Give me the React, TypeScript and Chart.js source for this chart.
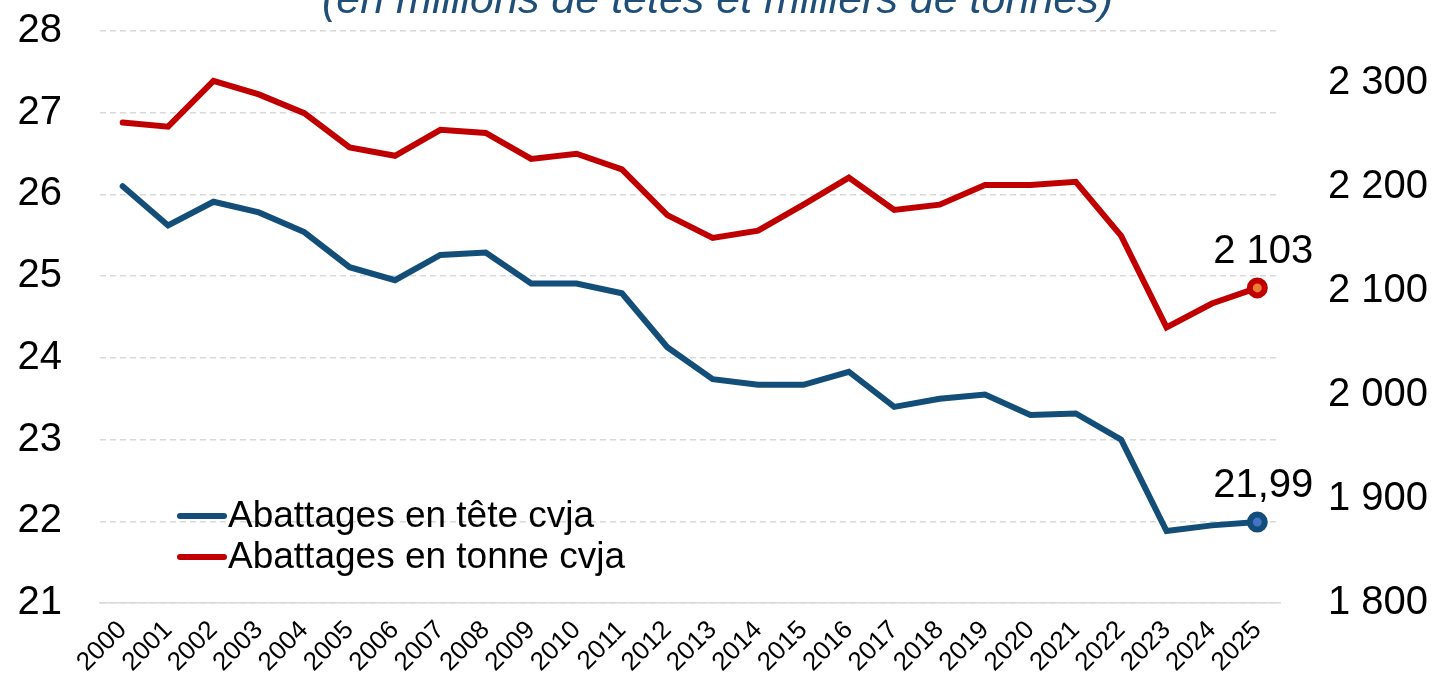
import React, { useEffect, useRef } from 'react';
import { Chart, registerables } from 'chart.js';

Chart.register(...registerables);

const FONT = "'Liberation Sans', Arial, sans-serif";

const years = ['2000', '2001', '2002', '2003', '2004', '2005', '2006', '2007', '2008', '2009', '2010', '2011', '2012', '2013', '2014', '2015', '2016', '2017', '2018', '2019', '2020', '2021', '2022', '2023', '2024', '2025'];

const tetesCvja = [26.1, 25.62, 25.91, 25.78, 25.54, 25.11, 24.95, 25.26, 25.29, 24.91, 24.91, 24.79, 24.13, 23.74, 23.67, 23.67, 23.83, 23.4, 23.5, 23.55, 23.3, 23.32, 23.0, 21.88, 21.95, 21.99];

const tonnesCvja = [2262, 2258, 2302, 2289, 2271, 2238, 2230, 2255, 2252, 2227, 2232, 2217, 2173, 2151, 2158, 2183, 2209, 2178, 2183, 2202, 2202, 2205, 2153, 2065, 2088, 2103];

const labelTetes = 'Abattages en tête cvja';
const labelTonnes = 'Abattages en tonne cvja';
const subtitle = '(en millions de têtes et milliers de tonnes)';

const leftMin = 21;
const leftMax = 28;
const rightMin = 1800;
const rightMax = 2350;

const BLUE = '#124E78';
const BLUE_IN = '#4472C4';
const RED = '#C00000';
const RED_IN = '#ED7D31';
const GRID = '#D9D9D9';

const spaceThousands = (v: number) => String(Math.round(v)).replace(/\B(?=(\d{3})+(?!\d))/g, ' ');

const lastOnly = (n: number, v: number) => Array.from({ length: n }, (_, i) => (i === n - 1 ? v : 0));

const titlePlugin = {
  id: 'subtitleTop',
  afterDraw(chart: any) {
    const ctx = chart.ctx;
    ctx.save();
    ctx.font = `italic 43px ${FONT}`;
    ctx.fillStyle = '#1F4E79';
    ctx.textAlign = 'center';
    ctx.textBaseline = 'alphabetic';
    ctx.fillText(subtitle, chart.width / 2 - 2, 13);
    ctx.restore();
  },
};

const legendPlugin = {
  id: 'insideLegend',
  afterDraw(chart: any) {
    const ctx = chart.ctx;
    const rows = [
      { color: BLUE, text: labelTetes, y: 516 },
      { color: RED, text: labelTonnes, y: 557 },
    ];
    ctx.save();
    rows.forEach((r) => {
      ctx.strokeStyle = r.color;
      ctx.lineWidth = 6;
      ctx.lineCap = 'round';
      ctx.beginPath();
      ctx.moveTo(180, r.y);
      ctx.lineTo(224, r.y);
      ctx.stroke();
      ctx.fillStyle = '#000';
      ctx.font = `37px ${FONT}`;
      ctx.textAlign = 'left';
      ctx.textBaseline = 'middle';
      ctx.fillText(r.text, 228, r.y + 1);
    });
    ctx.restore();
  },
};

const valueLabelPlugin = {
  id: 'lastValues',
  afterDatasetsDraw(chart: any) {
    const ctx = chart.ctx;
    ctx.save();
    ctx.font = `40px ${FONT}`;
    ctx.fillStyle = '#000';
    ctx.textAlign = 'center';
    ctx.textBaseline = 'alphabetic';
    chart.data.datasets.forEach((ds: any, di: number) => {
      const meta = chart.getDatasetMeta(di);
      const n = ds.data.length;
      const pt = meta.data[n - 1];
      const v = ds.data[n - 1];
      const txt = di === 0 ? v.toFixed(2).replace('.', ',') : spaceThousands(v);
      ctx.fillText(txt, pt.x + 6, pt.y - 25);
    });
    ctx.restore();
  },
};

const noPad = (s: any) => {
  s.paddingTop = 0;
  s.paddingBottom = 0;
};

export default function App() {
  const ref = useRef<HTMLCanvasElement | null>(null);

  useEffect(() => {
    if (!ref.current) return;
    const n = years.length;
    const chart = new Chart(ref.current, {
      type: 'line',
      data: {
        labels: years,
        datasets: [
          {
            label: labelTetes,
            data: tetesCvja,
            yAxisID: 'yLeft',
            borderColor: BLUE,
            borderWidth: 6,
            borderCapStyle: 'round',
            tension: 0,
            pointRadius: lastOnly(n, 7.5),
            pointBorderWidth: 6,
            pointBorderColor: BLUE,
            pointBackgroundColor: BLUE_IN,
            clip: false as any,
          },
          {
            label: labelTonnes,
            data: tonnesCvja,
            yAxisID: 'yRight',
            borderColor: RED,
            borderWidth: 6,
            borderCapStyle: 'round',
            tension: 0,
            pointRadius: lastOnly(n, 7.5),
            pointBorderWidth: 6,
            pointBorderColor: RED,
            pointBackgroundColor: RED_IN,
            clip: false as any,
          },
        ],
      },
      options: {
        responsive: false,
        animation: false,
        events: [],
        layout: { padding: { top: 31, left: 0, right: 0, bottom: 0 } },
        plugins: {
          legend: { display: false },
          tooltip: { enabled: false },
          title: { display: false },
        },
        scales: {
          x: {
            offset: true,
            grid: { display: false, drawTicks: false },
            border: { display: true, color: GRID, width: 1.5 },
            ticks: {
              autoSkip: false,
              maxRotation: 45,
              minRotation: 45,
              padding: 12,
              color: '#000',
              font: { family: FONT, size: 26 },
            },
            afterFit: (s: any) => {
              s.height = 81;
            },
          },
          yLeft: {
            position: 'left',
            min: leftMin,
            max: leftMax,
            grid: { display: true, color: GRID, lineWidth: 1.5, drawTicks: false },
            border: { display: false, dash: [6, 4] },
            ticks: {
              stepSize: 1,
              padding: 38,
              color: '#000',
              font: { family: FONT, size: 40 },
            },
            afterFit: (s: any) => {
              s.width = 100;
              noPad(s);
            },
          },
          yRight: {
            position: 'right',
            min: rightMin,
            max: rightMax,
            grid: { display: false, drawTicks: false },
            border: { display: false },
            ticks: {
              stepSize: 100,
              includeBounds: false,
              padding: 48,
              color: '#000',
              font: { family: FONT, size: 40 },
              callback: (v: any) => (Number(v) % 100 === 0 ? spaceThousands(Number(v)) : ''),
            },
            afterFit: (s: any) => {
              s.width = 159;
              noPad(s);
            },
          },
        },
      },
      plugins: [valueLabelPlugin, legendPlugin, titlePlugin],
    } as any);
    return () => chart.destroy();
  }, []);

  return (
    <div style={{ position: 'fixed', left: 0, top: 0, width: 1439, height: 684, background: '#fff' }}>
      <canvas ref={ref} width={1439} height={684} style={{ display: 'block' }} />
    </div>
  );
}
